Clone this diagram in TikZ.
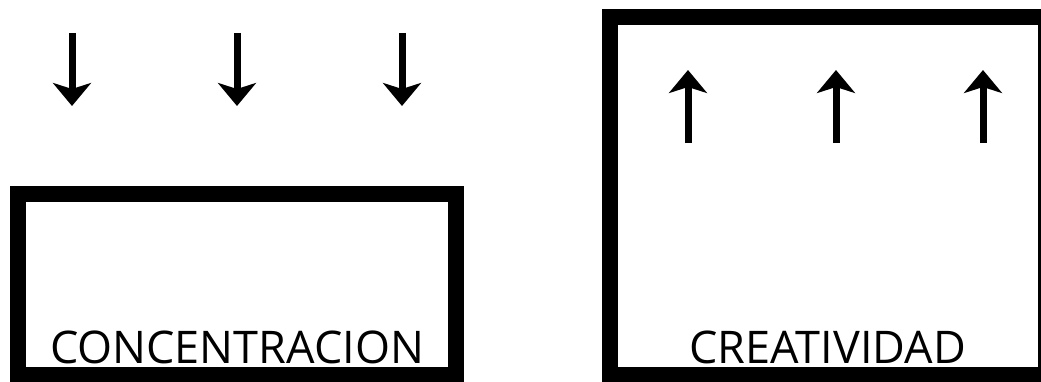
\documentclass[tikz,border=0pt]{standalone}
\usepackage{fontspec}
\setmainfont{Open Sans}
\usetikzlibrary{arrows.meta,positioning}

\begin{document}
\begin{tikzpicture}[
      x=1pt,y=1pt,
      frame/.style={draw=black,line width=16pt,inner sep=0pt,outer sep=0pt},
      lbl/.style={anchor=base,inner sep=0pt,font=\fontsize{45}{45}\selectfont},
      arr/.style={-{Stealth[length=23pt,width=38pt,inset=6pt]},line width=7pt,black},
    ]
    \useasboundingbox (0,0) rectangle (1041,381);
    \clip (0,0) rectangle (1041,381);

    % the two frames
    \node[frame,minimum width=437.5pt,minimum height=181.5pt,anchor=south west] (conc) at (18,6) {};
    \node[frame,minimum width=436pt,minimum height=357.5pt,anchor=south west] (crea) at (609.5,6) {};

    \node[lbl] (conctxt) at (237,18) {CONCENTRACION};
    \node[lbl] (creatxt) at (827.5,18) {CREATIVIDAD};

    % arrows going down onto the left frame
    \foreach \i/\x in {1/72,2/237,3/402} {
      \coordinate (d\i a) at (\x,348);
      \coordinate (d\i b) at (\x,275);
      \draw[arr] (d\i a) -- (d\i b);
    }
    % arrows going up inside the right frame
    \foreach \i/\x in {1/688,2/836,3/983} {
      \coordinate (u\i a) at (\x,238);
      \coordinate (u\i b) at (\x,311);
      \draw[arr] (u\i a) -- (u\i b);
    }
  \end{tikzpicture}
\end{document}
